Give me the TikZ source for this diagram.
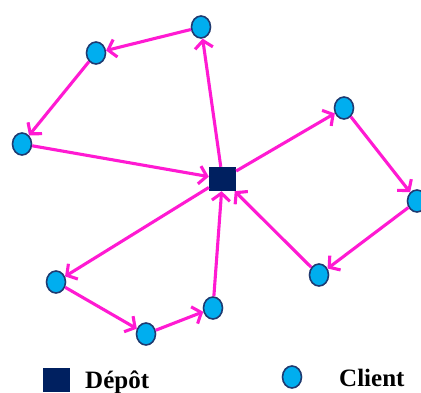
\documentclass[tikz,border=0pt]{standalone}
\usepackage{fontspec}
\setmainfont{Liberation Serif}
\usetikzlibrary{arrows.meta,shapes.geometric}
\definecolor{mag}{HTML}{FF1AD2}
\definecolor{cyanfill}{HTML}{00AEEF}
\definecolor{navyline}{HTML}{1F3A70}
\definecolor{depotfill}{HTML}{002060}
\tikzset{
  client/.style={ellipse, draw=navyline, line width=1.6pt, fill=cyanfill, minimum width=19pt, minimum height=22pt, inner sep=0pt},
  depot/.style={rectangle, fill=depotfill, minimum width=27pt, minimum height=24pt, inner sep=0pt},
  route/.style={draw=mag, line width=3.1pt, -{Straight Barb[length=7.5pt,width=18pt,line width=3.1pt]}},
  legend/.style={font=\bfseries\fontsize{25}{28}\selectfont, anchor=base west, inner sep=0pt}
}
\begin{document}
\begin{tikzpicture}[x=1pt,y=-1pt]
\useasboundingbox (0,0) rectangle (421,392);
\node[depot] (dep) at (222.5,179) {};
\node[client] (a) at (201,27) {};
\node[client] (b) at (96,53) {};
\node[client] (c) at (22,144) {};
\node[client] (d) at (344,108) {};
\node[client] (e) at (417,201) {};
\node[client] (f) at (319,275) {};
\node[client] (g) at (213,308) {};
\node[client] (h) at (146,334) {};
\node[client] (i) at (56,282) {};
\draw[route] (dep) -- (a);
\draw[route] (a) -- (b);
\draw[route] (b) -- (c);
\draw[route] (c) -- (dep);
\draw[route] (dep) -- (i);
\draw[route] (i) -- (h);
\draw[route] (h) -- (g);
\draw[route] (g) -- (dep);
\draw[route] (dep) -- (d);
\draw[route] (d) -- (e);
\draw[route] (e) -- (f);
\draw[route] (f) -- (dep);
\node[depot] (ldep) at (56.5,380) {};
\node[legend] (tdep) at (85,388) {Dépôt};
\node[client] (lcli) at (292,377) {};
\node[legend] (tcli) at (339,386) {Client};
\end{tikzpicture}
\end{document}
